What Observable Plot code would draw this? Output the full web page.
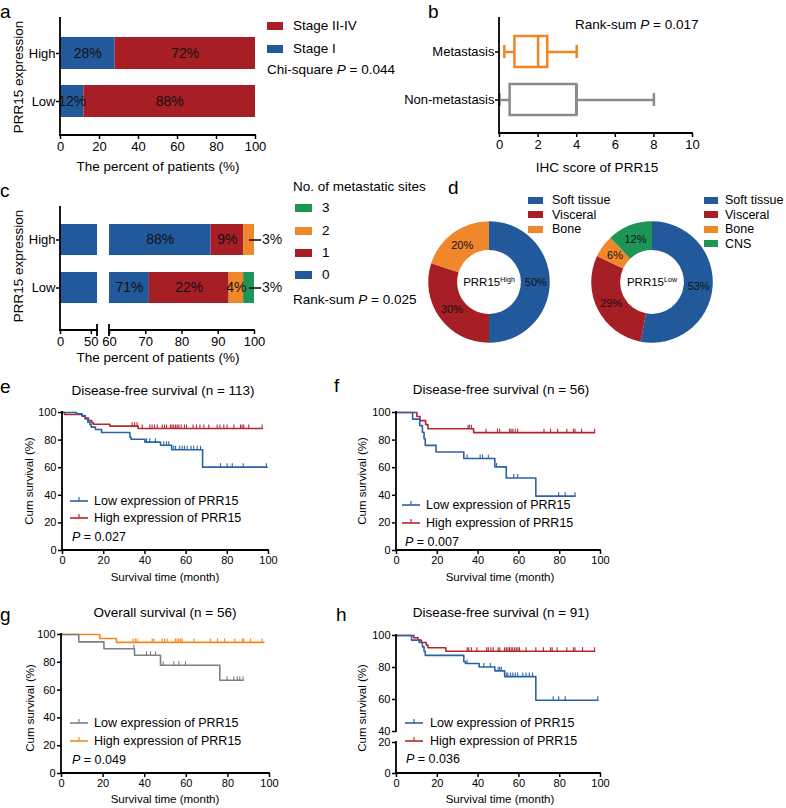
<!DOCTYPE html>
<html><head><meta charset="utf-8">
<script src="https://cdn.jsdelivr.net/npm/d3@7"></script>
<script src="https://cdn.jsdelivr.net/npm/@observablehq/plot@0.6"></script>
<style>
body{margin:0;background:#fff;}
#root{position:relative;width:786px;height:808px;overflow:hidden;font-family:"Liberation Sans",Arial,sans-serif;color:#000;background:#fff;}
.t{position:absolute;white-space:nowrap;line-height:1.15;}
.sw{position:absolute;}
#root svg{overflow:visible;}
#root svg [aria-label$="axis tick"] path, #root svg [aria-label$="axis"] line{stroke-width:1.5px;}
sup{font-size:0.62em;vertical-align:0.55em;line-height:0;}
</style></head><body><div id="root"></div>
<script>
// ---------------- data ----------------
// panel a
const groupsAB = ["High", "Low"];
const stages = ["Stage I", "Stage II-IV"];
const stageHigh = [28, 72];
const stageLow = [12, 88];
// panel b (box statistics: min, q1, median, q3, max)
const boxGroups = ["Metastasis", "Non-metastasis"];
const boxMin = [0.25, 0];
const boxQ1 = [0.8, 0.55];
const boxMed = [2, 4];
const boxQ3 = [2.5, 4];
const boxMax = [4, 8];
// panel c
const siteCats = ["0", "1", "2", "3"];
const sitesHigh = [88, 9, 3, 0];
const sitesLow = [71, 22, 4, 3];
// panel d
const siteTypes = ["Soft tissue", "Visceral", "Bone", "CNS"];
const donutHigh = [50, 30, 20];
const donutLow = [53, 29, 6, 12];
// panel e  (DFS n = 113)
const eLowT = [0, 6.8, 9.5, 11, 12.3, 13.3, 14, 16, 19, 32.7, 33.3, 40, 47.6, 53, 68, 99.3];
const eLowS = [100, 99.0, 97.8, 95.4, 93.0, 91.1, 89.4, 87.7, 85.5, 82.1, 80.6, 78.5, 76.3, 73.0, 60.4, 60.4];
const eLowC = [40.8, 42.4, 45.1, 49.2, 50.5, 51.6, 54.0, 54.9, 56.9, 58.1, 59.2, 60.5, 62.4, 63.7, 65.4, 67.0, 76.7, 79.9, 82.4, 87.7, 99.0];
const eHighT = [0, 1, 9.5, 11, 12.6, 14.2, 15, 23, 36.7, 97];
const eHighS = [100, 98.6, 97.3, 95.9, 94.2, 92.5, 91.5, 90.1, 88.4, 88.4];
const eHighC = [33.8, 35.0, 36.2, 38.7, 42.4, 43.5, 44.7, 46.0, 48.4, 49.5, 50.5, 52.4, 53.2, 54.0, 54.9, 55.7, 56.5, 57.6, 59.2, 60.2, 63.4, 65.0, 66.7, 68.6, 71.0, 75.1, 76.4, 78.3, 79.9, 83.2, 86.4, 87.2, 88.0, 90.4, 96.9];
// panel f  (DFS n = 56)
const fLowT = [0, 7.9, 11.4, 12.7, 13.5, 14.1, 19.4, 33, 48.2, 53.8, 68.3, 87.5];
const fLowS = [100, 95.2, 90.5, 85.7, 81.0, 76.2, 71.4, 66.7, 60.6, 52.5, 39.4, 39.4];
const fLowC = [34.6, 41, 42.2, 45, 49, 57.5, 59.4, 79.5, 82.7, 87.5];
const fHighT = [0, 10, 11.5, 14.3, 15.4, 37.8, 97.1];
const fHighS = [100, 97.1, 94.1, 91.2, 88.2, 85.4, 85.4];
const fHighC = [35.1, 35.7, 36.7, 43.9, 49.5, 50.6, 55.4, 56.2, 57, 58.2, 59.4, 72.3, 75.5, 79, 83.5, 86.7, 87.5, 90.7, 97.1];
// panel g  (OS n = 56)
const gLowT = [0, 8.3, 20.4, 35.1, 47.6, 76.1, 87.3];
const gLowS = [100, 94.7, 89.7, 85.1, 77.9, 67.1, 67.1];
const gLowC = [34.8, 40.9, 42.8, 45.2, 48.9, 54.0, 56.4, 59.6, 79.6, 82.9, 84.5, 85.7, 87.3];
const gHighT = [0, 18.4, 26.4, 97.3];
const gHighS = [100, 97.1, 94.3, 94.3];
const gHighC = [34.4, 35.5, 36.4, 43.6, 44.4, 48.4, 49.6, 50.8, 54.8, 55.6, 56.4, 57.2, 58, 63.6, 71.7, 75, 78.4, 83.3, 86.9, 87.7, 90.9, 96.5];
// panel h  (DFS n = 91)
const hLowT = [0, 7.4, 11.1, 12.7, 13.5, 14.1, 33, 33.8, 40.5, 48.2, 53, 68.3, 98.7];
const hLowS = [100, 97.1, 95.6, 92.9, 90.2, 87.6, 83.6, 82.5, 80.3, 77.9, 74.3, 59.5, 59.5];
const hLowC = [34.6, 42.8, 46, 49.8, 50.6, 51.4, 53.8, 54.6, 55.9, 57, 58.2, 59.4, 61.9, 63.5, 65.1, 66.7, 76.8, 79.5, 82.7, 98.7];
const hHighT = [0, 8.5, 10.6, 12.2, 14.6, 15.4, 24.2, 97.1];
const hHighS = [100, 98.6, 97.1, 95.6, 94.0, 92.3, 90.2, 90.2];
const hHighC = [34.6, 35.4, 36.7, 39.4, 44.2, 45, 46.3, 47.4, 49.8, 50.6, 53, 53.8, 54.6, 55.4, 56.2, 57, 57.9, 58.7, 59.5, 60.3, 63.5, 68.3, 72, 75.5, 76.3, 78.7, 83.5, 86.7, 87.5, 91.2, 97.1];
const kmTicks = [0, 20, 40, 60, 80, 100];

// ---------------- styling ----------------
const FONT = '"Liberation Sans", Arial, sans-serif';
const BLUE = "#22599b", RED = "#a81e25", ORANGE = "#f0872a", GREEN = "#1f9457";
const KBLUE = "#2b62a7", KRED = "#b3272f", KGREY = "#7f7f7f", KORANGE = "#f5871f";
const BOXCOL = ["#f5831f", "#8b8b8b"];
const root = document.getElementById("root");
const style = (size) => ({fontFamily: FONT, fontSize: size + "px", background: "transparent", color: "#000"});

function place(node, left, top) {
  node.style.position = "absolute";
  node.style.left = left + "px";
  node.style.top = top + "px";
  root.appendChild(node);
  return node;
}
function label(html, x, y, {size = 13, anchor = "start", rotate = 0} = {}) {
  const d = document.createElement("div");
  d.className = "t";
  d.innerHTML = html;
  d.style.fontSize = size + "px";
  d.style.left = x + "px";
  d.style.top = y + "px";
  const tx = anchor === "start" ? "0" : anchor === "middle" ? "-50%" : "-100%";
  d.style.transform = `translate(${tx},-50%)` + (rotate ? ` rotate(${rotate}deg)` : "");
  root.appendChild(d);
  return d;
}
function swatch(color, x, y, w, h) {
  const d = document.createElement("div");
  d.className = "sw";
  Object.assign(d.style, {left: x + "px", top: (y - h / 2) + "px", width: w + "px", height: h + "px", background: color});
  root.appendChild(d);
}
function kmKey(color, x, y) {
  const ns = "http://www.w3.org/2000/svg";
  const s = document.createElementNS(ns, "svg");
  s.setAttribute("width", 18); s.setAttribute("height", 10);
  s.style.position = "absolute"; s.style.left = x + "px"; s.style.top = (y - 6) + "px";
  s.innerHTML = `<line x1="0" x2="18" y1="6" y2="6" stroke="${color}" stroke-width="1.6"/><line x1="9" x2="9" y1="6" y2="2" stroke="${color}" stroke-width="1.2"/>`;
  root.appendChild(s);
}
// axis lines drawn from plot dimensions
function axisLines({left = false, bottom = false, breakLeft = false, breakRight = false} = {}) {
  return (index, scales, values, dims) => {
    const {width, height, marginLeft: ml, marginRight: mr, marginTop: mt, marginBottom: mb} = dims;
    const g = d3.create("svg:g").attr("stroke", "#000").attr("stroke-width", 1.8).attr("stroke-linecap", "square").attr("fill", "none");
    const x0 = ml, x1 = width - mr, y0 = mt, y1 = height - mb;
    if (left) g.append("line").attr("x1", x0).attr("x2", x0).attr("y1", y0).attr("y2", y1);
    if (bottom) g.append("line").attr("x1", x0).attr("x2", x1).attr("y1", y1).attr("y2", y1);
    if (breakLeft) g.append("line").attr("x1", x0).attr("x2", x0).attr("y1", y1 - 5).attr("y2", y1 + 5);
    if (breakRight) g.append("line").attr("x1", x1).attr("x2", x1).attr("y1", y1 - 5).attr("y2", y1 + 5);
    return g.node();
  };
}
const censorSymbol = {draw(ctx) { ctx.moveTo(0, 0); ctx.lineTo(0, -4); }};
const leaderSymbol = {draw(ctx) { ctx.moveTo(0, 0); ctx.lineTo(12, 0); }};
const survAt = (T, S, t) => { let v = S[0]; for (let i = 0; i < T.length; i++) if (T[i] <= t) v = S[i]; return v; };

// ---------------- panel a ----------------
const tableA = [];
groupsAB.forEach((g, gi) => stages.forEach((s, si) => tableA.push({group: g, stage: s, pct: (gi === 0 ? stageHigh : stageLow)[si]})));
place(Plot.plot({
  width: 262, height: 175, marginLeft: 60, marginRight: 7, marginTop: 18, marginBottom: 40,
  style: style(13),
  x: {domain: [0, 100], ticks: [0, 20, 40, 60, 80, 100], tickSize: 4, tickPadding: 2, label: null},
  y: {domain: groupsAB, paddingInner: 1 / 3, paddingOuter: 0.385, tickSize: 4, tickPadding: 1, label: null},
  color: {domain: stages, range: [BLUE, RED]},
  marks: [
    Plot.barX(tableA, Plot.stackX({y: "group", x: "pct", z: "stage", fill: "stage"})),
    Plot.text(tableA, Plot.stackX({y: "group", x: "pct", z: "stage", text: d => d.pct + "%", fontSize: 14, fill: "#111"})),
    axisLines({left: true, bottom: true})
  ]
}), 0, 0);
label("a", 0, 12, {size: 19});
label("PRR15 expression", 19, 77, {size: 13.5, anchor: "middle", rotate: -90});
label("The percent of patients (%)", 158, 167, {size: 13.5, anchor: "middle"});
swatch(RED, 267, 26, 16, 8);
label("Stage II-IV", 293, 26, {size: 13.5});
swatch(BLUE, 267, 49, 16, 8);
label("Stage I", 293, 49, {size: 13.5});
label("Chi-square <i>P</i> = 0.044", 267, 70, {size: 13.5});

// ---------------- panel b ----------------
const tableB = boxGroups.map((g, i) => ({group: g, min: boxMin[i], q1: boxQ1[i], med: boxMed[i], q3: boxQ3[i], max: boxMax[i]}));
place(Plot.plot({
  width: 300, height: 175, marginLeft: 99, marginRight: 8, marginTop: 18, marginBottom: 42,
  style: style(13),
  x: {domain: [0, 10], ticks: [0, 2, 4, 6, 8, 10], tickSize: 4, tickPadding: 2, label: null},
  y: {domain: boxGroups, paddingInner: 0.35, paddingOuter: 0.36, tickSize: 4, tickPadding: 1, label: null},
  color: {domain: boxGroups, range: BOXCOL},
  marks: [
    Plot.ruleY(tableB, {y: "group", x1: "min", x2: "q1", stroke: "group", strokeWidth: 2.5}),
    Plot.ruleY(tableB, {y: "group", x1: "q3", x2: "max", stroke: "group", strokeWidth: 2.5}),
    Plot.barX(tableB, {y: "group", x1: "q1", x2: "q3", fill: "white", stroke: "group", strokeWidth: 2.5}),
    Plot.tickX(tableB, {y: "group", x: "med", stroke: "group", strokeWidth: 2.5}),
    Plot.tickX(tableB, {y: "group", x: "min", stroke: "group", strokeWidth: 2.5, insetTop: 9, insetBottom: 9}),
    Plot.tickX(tableB, {y: "group", x: "max", stroke: "group", strokeWidth: 2.5, insetTop: 9, insetBottom: 9}),
    axisLines({left: true, bottom: true})
  ]
}), 400, 0);
label("b", 428, 12, {size: 19});
label("Rank-sum <i>P</i> = 0.017", 575, 25, {size: 13.5});
label("IHC score of PRR15", 597, 168, {size: 13.5, anchor: "middle"});

// ---------------- panel c ----------------
const tableC = [];
groupsAB.forEach((g, gi) => {
  const vals = gi === 0 ? sitesHigh : sitesLow;
  let acc = 0;
  siteCats.forEach((c, ci) => { tableC.push({group: g, site: c, pct: vals[ci], x1: acc, x2: acc + vals[ci]}); acc += vals[ci]; });
});
const barsC = tableC.filter(d => d.pct > 0);
const cColor = {domain: siteCats, range: [BLUE, RED, ORANGE, GREEN]};
const cY = {domain: groupsAB, paddingInner: 0.347, paddingOuter: 0.43, align: 0.4, tickSize: 4, tickPadding: 1, label: null};
place(Plot.plot({
  width: 100, height: 170, marginLeft: 60, marginRight: 3, marginTop: 17, marginBottom: 30,
  style: style(13),
  x: {domain: [0, 60], ticks: [0, 50], tickSize: 4, tickPadding: 2, label: null},
  y: cY, color: cColor,
  marks: [
    Plot.barX(barsC, {y: "group", x1: "x1", x2: "x2", fill: "site", clip: true}),
    axisLines({left: true, bottom: true, breakRight: true})
  ]
}), 0, 190);
place(Plot.plot({
  width: 190, height: 170, marginLeft: 9, marginRight: 36, marginTop: 17, marginBottom: 30,
  style: style(13),
  x: {domain: [60, 100], ticks: [60, 70, 80, 90, 100], tickSize: 4, tickPadding: 2, label: null},
  y: {...cY, axis: null}, color: cColor,
  marks: [
    Plot.barX(barsC, {y: "group", x1: "x1", x2: "x2", fill: "site", clip: true}),
    Plot.text(barsC.filter(d => d.pct >= 4), {y: "group", x: d => (Math.max(d.x1, 60) + d.x2) / 2, text: d => d.pct + "%", fontSize: 14, fill: "#111"}),
    Plot.dot(barsC.filter(d => d.pct < 4), {y: "group", x: d => (d.x1 + d.x2) / 2, symbol: leaderSymbol, stroke: "#000", strokeWidth: 1.5, fill: "none"}),
    Plot.text(barsC.filter(d => d.pct < 4), {y: "group", x: d => (d.x1 + d.x2) / 2, dx: 13, textAnchor: "start", text: d => d.pct + "%", fontSize: 14, fill: "#111"}),
    axisLines({bottom: true, breakLeft: true})
  ]
}), 100, 190);
label("c", 0, 191, {size: 19});
label("PRR15 expression", 19, 266, {size: 13.5, anchor: "middle", rotate: -90});
label("The percent of patients (%)", 158, 358, {size: 13.5, anchor: "middle"});
label("No. of metastatic sites", 293, 187, {size: 13.5});
[["3", GREEN, 208], ["2", ORANGE, 231], ["1", RED, 253], ["0", BLUE, 275]].forEach(([t, c, y]) => {
  swatch(c, 295, y, 17, 8);
  label(t, 322, y, {size: 13.5});
});
label("Rank-sum <i>P</i> = 0.025", 293, 300, {size: 13.5});

// ---------------- panel d ----------------
const siteColors = [BLUE, RED, ORANGE, GREEN];
function donut(values, left, top) {
  const arcs = d3.pie().sort(null)(values);
  const inner = 0.525, mid = (1 + inner) / 2;
  const labs = arcs.map((a, i) => {
    const m = (a.startAngle + a.endAngle) / 2;
    return {x: mid * Math.sin(m), y: mid * Math.cos(m), text: values[i] + "%"};
  });
  place(Plot.plot({
    width: 124, height: 124, margin: 0,
    style: style(11),
    x: {domain: [-1.02, 1.02], axis: null},
    y: {domain: [-1.02, 1.02], axis: null},
    marks: [
      (index, scales) => {
        const cx = scales.x(0), cy = scales.y(0), R = scales.x(1) - cx;
        const arc = d3.arc().innerRadius(R * inner).outerRadius(R);
        const g = d3.create("svg:g").attr("transform", `translate(${cx},${cy})`);
        g.selectAll("path").data(arcs).join("path").attr("d", arc).attr("fill", (d, i) => siteColors[i]);
        return g.node();
      },
      Plot.text(labs, {x: "x", y: "y", text: "text", fontSize: 11, fill: "#111"})
    ]
  }), left, top);
}
donut(donutHigh, 427, 220);
donut(donutLow, 590, 220);
label("d", 448, 188, {size: 19});
label("PRR15<sup>High</sup>", 489, 283, {size: 11.5, anchor: "middle"});
label("PRR15<sup>Low</sup>", 652, 283, {size: 11.5, anchor: "middle"});
donutHigh.forEach((v, i) => { swatch(siteColors[i], 528, 200 + i * 14.5, 15, 7); label(siteTypes[i], 552, 200 + i * 14.5, {size: 12.5}); });
donutLow.forEach((v, i) => { swatch(siteColors[i], 704, 200 + i * 14.5, 14, 7); label(siteTypes[i], 725, 200 + i * 14.5, {size: 12.5}); });

// ---------------- KM panels ----------------
function km({left, top, width, height, ml, mr, mt, mb, series, yDomain = [0, 100], yTicks = kmTicks, showX = true}) {
  const marks = [];
  for (const s of series) {
    const pts = s.T.map((t, i) => ({t, s: s.S[i]}));
    marks.push(Plot.line(pts, {x: "t", y: "s", curve: "step-after", stroke: s.color, strokeWidth: 1.6}));
    const cens = s.C.map(t => ({t, s: survAt(s.T, s.S, t)}));
    marks.push(Plot.dot(cens, {x: "t", y: "s", symbol: censorSymbol, stroke: s.color, strokeWidth: 1.1, fill: "none"}));
  }
  marks.push(axisLines({left: true, bottom: showX}));
  place(Plot.plot({
    width, height, marginLeft: ml, marginRight: mr, marginTop: mt, marginBottom: mb,
    style: style(11),
    x: {domain: [0, 100], ticks: kmTicks, tickSize: 4, tickPadding: 2, label: null, axis: showX ? "bottom" : null},
    y: {domain: yDomain, ticks: yTicks, tickSize: 4, tickPadding: 2, label: null},
    marks
  }), left, top);
}
function kmText(letter, lx, ly, title, tx, ty, yt, xt, leg, pText) {
  label(letter, lx, ly, {size: 19});
  label(title, tx, ty, {size: 13.5, anchor: "middle"});
  label("Cum survival (%)", yt[0], yt[1], {size: 11.5, anchor: "middle", rotate: -90});
  label("Survival time (month)", xt[0], xt[1], {size: 11.5, anchor: "middle"});
  kmKey(leg.c1, leg.x, leg.y1);
  label("Low expression of PRR15", leg.tx, leg.y1, {size: 12.5});
  kmKey(leg.c2, leg.x, leg.y2);
  label("High expression of PRR15", leg.tx, leg.y2, {size: 12.5});
  label("<i>P</i> = " + pText, leg.px, leg.py, {size: 12.5});
}

// e
km({left: 0, top: 400, width: 280, height: 175, ml: 62, mr: 12, mt: 12, mb: 25,
  series: [{T: eHighT, S: eHighS, C: eHighC, color: KRED}, {T: eLowT, S: eLowS, C: eLowC, color: KBLUE}]});
kmText("e", 0, 387, "Disease-free survival (n = 113)", 163, 391, [30, 481], [165, 578],
  {c1: KBLUE, c2: KRED, x: 70, tx: 94, y1: 501, y2: 518, px: 72, py: 537}, "0.027");
// f
km({left: 360, top: 400, width: 260, height: 175, ml: 36, mr: 20, mt: 12, mb: 25,
  series: [{T: fHighT, S: fHighS, C: fHighC, color: KRED}, {T: fLowT, S: fLowS, C: fLowC, color: KBLUE}]});
kmText("f", 334, 386, "Disease-free survival (n = 56)", 501, 390, [363, 481], [500, 578],
  {c1: KBLUE, c2: KRED, x: 402, tx: 426, y1: 505, y2: 523, px: 405, py: 542}, "0.007");
// g
km({left: 0, top: 620, width: 280, height: 178, ml: 61, mr: 11, mt: 14, mb: 25,
  series: [{T: gHighT, S: gHighS, C: gHighC, color: KORANGE}, {T: gLowT, S: gLowS, C: gLowC, color: KGREY}]});
kmText("g", 0, 615, "Overall survival (n = 56)", 165, 613, [31, 708], [165, 800],
  {c1: KGREY, c2: KORANGE, x: 70, tx: 94, y1: 723, y2: 741, px: 72, py: 760}, "0.049");
// h (broken y axis: 0-20 and 40-100)
const hSeries = [{T: hHighT, S: hHighS, C: hHighC, color: KRED}, {T: hLowT, S: hLowS, C: hLowC, color: KBLUE}];
km({left: 360, top: 620, width: 260, height: 111, ml: 36, mr: 20, mt: 15, mb: 0,
  series: hSeries, yDomain: [40, 100], yTicks: [40, 60, 80, 100], showX: false});
km({left: 360, top: 737, width: 260, height: 61, ml: 36, mr: 20, mt: 5, mb: 25,
  series: [], yDomain: [0, 20], yTicks: [0, 20]});
kmText("h", 336, 615, "Disease-free survival (n = 91)", 501, 613, [363, 708], [500, 800],
  {c1: KBLUE, c2: KRED, x: 405, tx: 430, y1: 723, y2: 741, px: 406, py: 759}, "0.036");
</script></body></html>
